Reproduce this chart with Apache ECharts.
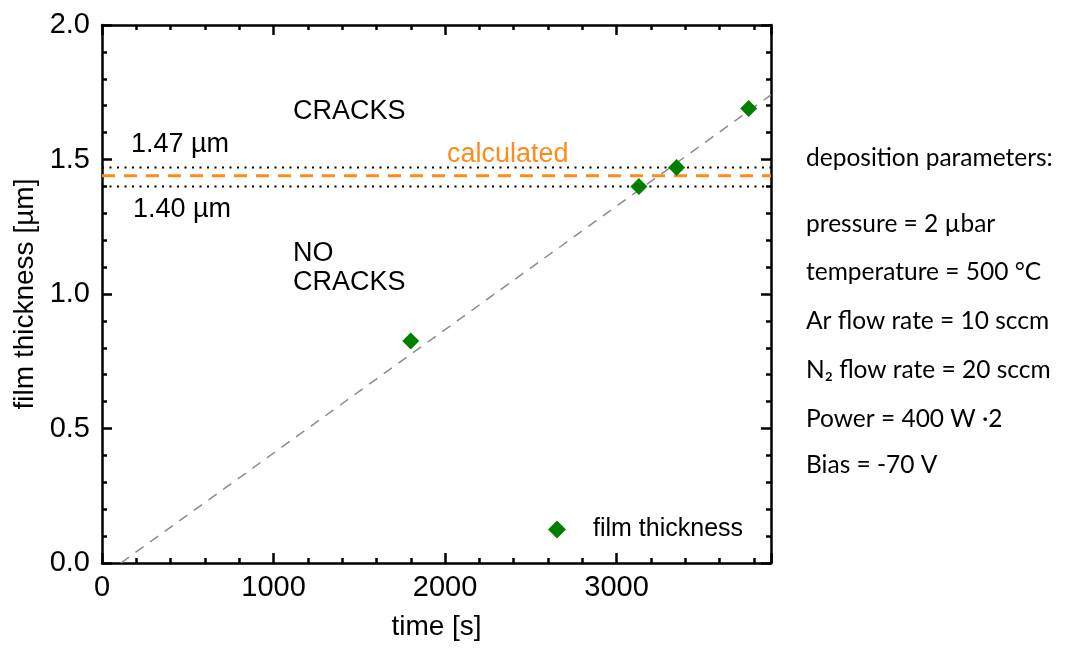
<!DOCTYPE html>
<html lang="en">
<head>
    <meta charset="UTF-8">
    <title>film thickness</title>
    <script src="https://cdn.jsdelivr.net/npm/echarts@6/dist/echarts.min.js"></script>
    <style>
        html, body { margin: 0; padding: 0; background: #fff; }
        #chart1 { width: 1069px; height: 656px; }
    </style>
</head>
<body>
<div id="chart1"></div>
<script>
    // measured points
    var timeS = [1800, 3130, 3350, 3770];
    var thicknessUm = [0.825, 1.40, 1.47, 1.69];
    // linear fit (end points)
    var fitTime = [110, 3900];
    var fitThickness = [0, 1.74];
    // crack limits and calculated value
    var crackUpper = 1.47;
    var crackLower = 1.40;
    var calculated = 1.44;
    var params = [
        'deposition parameters:',
        'pressure = 2 µbar',
        'temperature = 500 °C',
        'Ar flow rate = 10 sccm',
        'N\u2082 flow rate = 20 sccm',
        'Power = 400 W \u00b72',
        'Bias = -70 V'
    ];
    var paramsY = [160, 226, 274, 323, 372, 421, 467];

    var xMin = 0, xMax = 3900, yMin = 0, yMax = 2;
    var font = 'Liberation Sans, Arial, sans-serif';

    function hLine(v) {
        return [[xMin, v], [xMax, v]];
    }

    var pts = timeS.map(function (t, i) { return [t, thicknessUm[i]]; });
    var fit = fitTime.map(function (t, i) { return [t, fitThickness[i]]; });

    var axisCommon = {
        type: 'value',
        axisLine: { show: true, onZero: false, lineStyle: { color: '#000', width: 2.5 } },
        axisTick: { show: true, inside: true, length: 10, lineStyle: { color: '#000', width: 2.5 } },
        minorTick: { show: true, splitNumber: 5, length: 5, lineStyle: { color: '#000', width: 2.5 } },
        splitLine: { show: false }
    };

    var ctx1 = echarts.init(document.getElementById('chart1'));

    var textEls = [
        { x: 293, y: 98, text: 'CRACKS', color: '#000' },
        { x: 131, y: 131, text: '1.47 µm', color: '#000' },
        { x: 447, y: 141, text: 'calculated', color: '#ff8c1a' },
        { x: 133, y: 196, text: '1.40 µm', color: '#000' },
        { x: 293, y: 240, text: 'NO', color: '#000' },
        { x: 293, y: 269, text: 'CRACKS', color: '#000' }
    ].map(function (t) {
        return {
            type: 'text', left: t.x, top: t.y,
            style: { text: t.text, fill: t.color, font: '27px ' + font }
        };
    });

    params.forEach(function (p, i) {
        textEls.push({
            type: 'text', left: 806, top: paramsY[i] - 14,
            style: { text: p, fill: '#000', font: '24.5px Lato, sans-serif' }
        });
    });

    ctx1.setOption({
        animation: false,
        grid: { left: 102, top: 25, right: 298, bottom: 93 },
        xAxis: [
            Object.assign({}, axisCommon, {
                min: xMin, max: xMax, interval: 1000, position: 'bottom',
                name: 'time [s]', nameLocation: 'middle', nameGap: 50,
                nameTextStyle: { fontSize: 28, fontFamily: font, color: '#000' },
                axisLabel: { fontSize: 29, fontFamily: font, color: '#000', margin: 10,
                    formatter: function (v) { return v > 3000 ? '' : v; } }
            }),
            Object.assign({}, axisCommon, {
                min: xMin, max: xMax, interval: 1000, position: 'top',
                axisLabel: { show: false }
            })
        ],
        yAxis: [
            Object.assign({}, axisCommon, {
                min: yMin, max: yMax, interval: 0.5, position: 'left',
                name: 'film thickness [µm]', nameLocation: 'middle', nameGap: 62,
                nameTextStyle: { fontSize: 28, fontFamily: font, color: '#000' },
                axisLabel: { fontSize: 29, fontFamily: font, color: '#000', margin: 12,
                    formatter: function (v) { return v.toFixed(1); } }
            }),
            Object.assign({}, axisCommon, {
                min: yMin, max: yMax, interval: 0.5, position: 'right',
                axisLabel: { show: false }
            })
        ],
        legend: {
            data: [{ name: 'film thickness', icon: 'diamond', itemStyle: { color: '#008000', opacity: 1 } }],
            left: 543, top: 512, itemWidth: 18, itemHeight: 18,
            textStyle: { fontSize: 25, fontFamily: font, color: '#000', padding: [0, 0, 0, 22] }
        },
        graphic: textEls,
        series: [
            {
                name: 'fit', type: 'line', data: fit, symbol: 'none', silent: true,
                lineStyle: { color: '#8c8c8c', width: 1.5, type: [10, 8] }
            },
            {
                name: 'upper', type: 'line', data: hLine(crackUpper), symbol: 'none',
                lineStyle: { color: '#000', width: 2, type: [2, 5.5] }
            },
            {
                name: 'lower', type: 'line', data: hLine(crackLower), symbol: 'none',
                lineStyle: { color: '#000', width: 2, type: [2, 5.5] }
            },
            {
                name: 'calc', type: 'line', data: hLine(calculated), symbol: 'none',
                lineStyle: { color: '#ff8c1a', width: 3, type: [13, 9] }
            },
            {
                name: 'film thickness', type: 'scatter', data: pts, symbol: 'diamond',
                symbolSize: 17, z: 5, itemStyle: { color: '#008000', opacity: 1 }
            }
        ]
    });
</script>
</body>
</html>
